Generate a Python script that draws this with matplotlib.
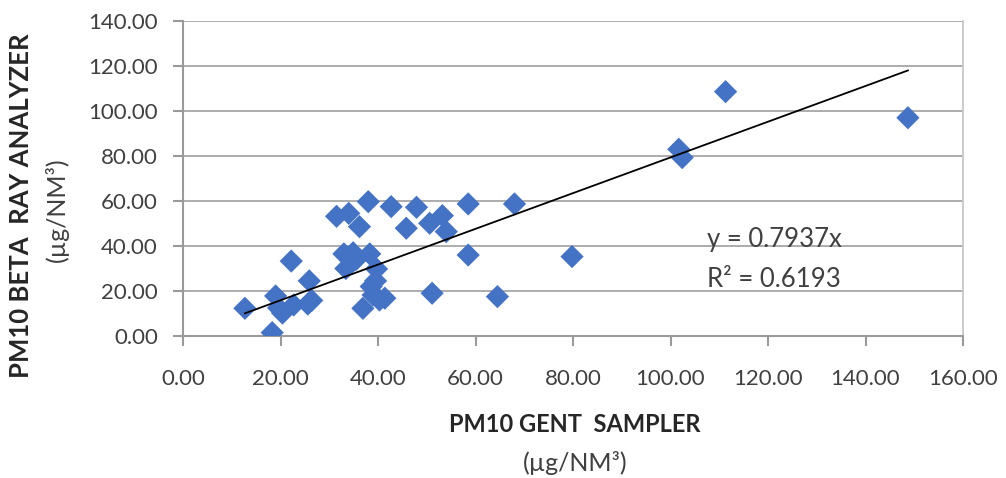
import matplotlib
matplotlib.use("Agg")
import matplotlib.pyplot as plt
import numpy as np

gent = [12.7, 18.3, 19.0, 19.6, 20.4, 22.2, 22.7, 25.9, 25.6, 26.4,
        31.5, 34.0, 36.2, 38.0, 42.7, 45.8, 47.9, 50.6, 53.2, 54.0,
        58.5, 58.5, 68.0, 79.8, 51.1, 64.5, 101.7, 102.4, 111.3, 148.7,
        33.0, 34.9, 33.4, 35.5, 38.3, 39.7, 38.6, 39.0, 40.3, 41.4,
        36.9, 39.5]
beta = [12.3, 1.5, 17.8, 12.5, 10.2, 33.3, 13.8, 24.5, 14.2, 15.8,
        53.2, 54.5, 48.6, 59.7, 57.5, 47.9, 57.2, 50.1, 53.5, 46.4,
        58.7, 36.0, 58.7, 35.3, 19.0, 17.5, 83.0, 79.3, 108.6, 97.0,
        36.5, 37.0, 30.0, 34.0, 36.5, 29.8, 22.0, 18.2, 16.0, 16.8,
        12.3, 24.5]
slope = 0.7937
r2 = 0.6193
xticks = [0, 20, 40, 60, 80, 100, 120, 140, 160]
yticks = [0, 20, 40, 60, 80, 100, 120, 140]

plt.rcParams['font.family'] = ['Lato', 'DejaVu Sans']
fig = plt.figure(figsize=(10.06, 4.78), dpi=100)
ax = fig.add_axes([183/1006, 142/478, 780/1006, 315/478])

ax.set_xlim(0, 160)
ax.set_ylim(0, 140)
ax.set_xticks(xticks)
ax.set_yticks(yticks)
ax.set_xticklabels([f"{v:.2f}" for v in xticks])
ax.set_yticklabels([f"{v:.2f}" for v in yticks])
ax.yaxis.grid(True, color='#a6a6a6', linewidth=1.3)
ax.set_axisbelow(True)
for s in ['left', 'bottom']:
    ax.spines[s].set_color('#9a9a9a')
    ax.spines[s].set_linewidth(1.5)
ax.spines['right'].set_color('#c8c8c8')
ax.spines['right'].set_linewidth(1.3)
ax.spines['top'].set_visible(False)
ax.tick_params(axis='both', colors='#9a9a9a', length=7, width=1.5,
               labelcolor='#404040', labelsize=16)
ax.tick_params(axis='x', pad=17)
ax.tick_params(axis='y', pad=11)

ax.scatter(gent, beta, marker='D', s=140, color='#4472C4', zorder=3,
           edgecolors='none')
xl = np.array([min(gent), max(gent)])
ax.plot(xl, slope * xl, color='black', linewidth=1.3, zorder=4)

ax.text(107.5, 42.7, f"y = {slope}x", fontsize=18.5, color='#404040',
        va='center', ha='left')
ax.text(107.5, 24.9, f"R² = {r2}", fontsize=18.5, color='#404040',
        va='center', ha='left')

fig.text(575/1006, 1 - 425/478, "PM10 GENT  SAMPLER", fontsize=17,
         fontweight='bold', color='#262626', ha='center', va='center')
fig.text(575/1006, 1 - 463/478, "(µg/NM³)", fontsize=18,
         color='#404040', ha='center', va='center')
fig.text(21/1006, 1 - 206/478, "PM10 BETA  RAY ANALYZER", fontsize=18.5,
         fontweight='bold', color='#262626', ha='center', va='center',
         rotation=90)
fig.text(57/1006, 1 - 210/478, "(µg/NM³)", fontsize=18,
         color='#404040', ha='center', va='center', rotation=90)

fig.savefig("out.png", dpi=100)
